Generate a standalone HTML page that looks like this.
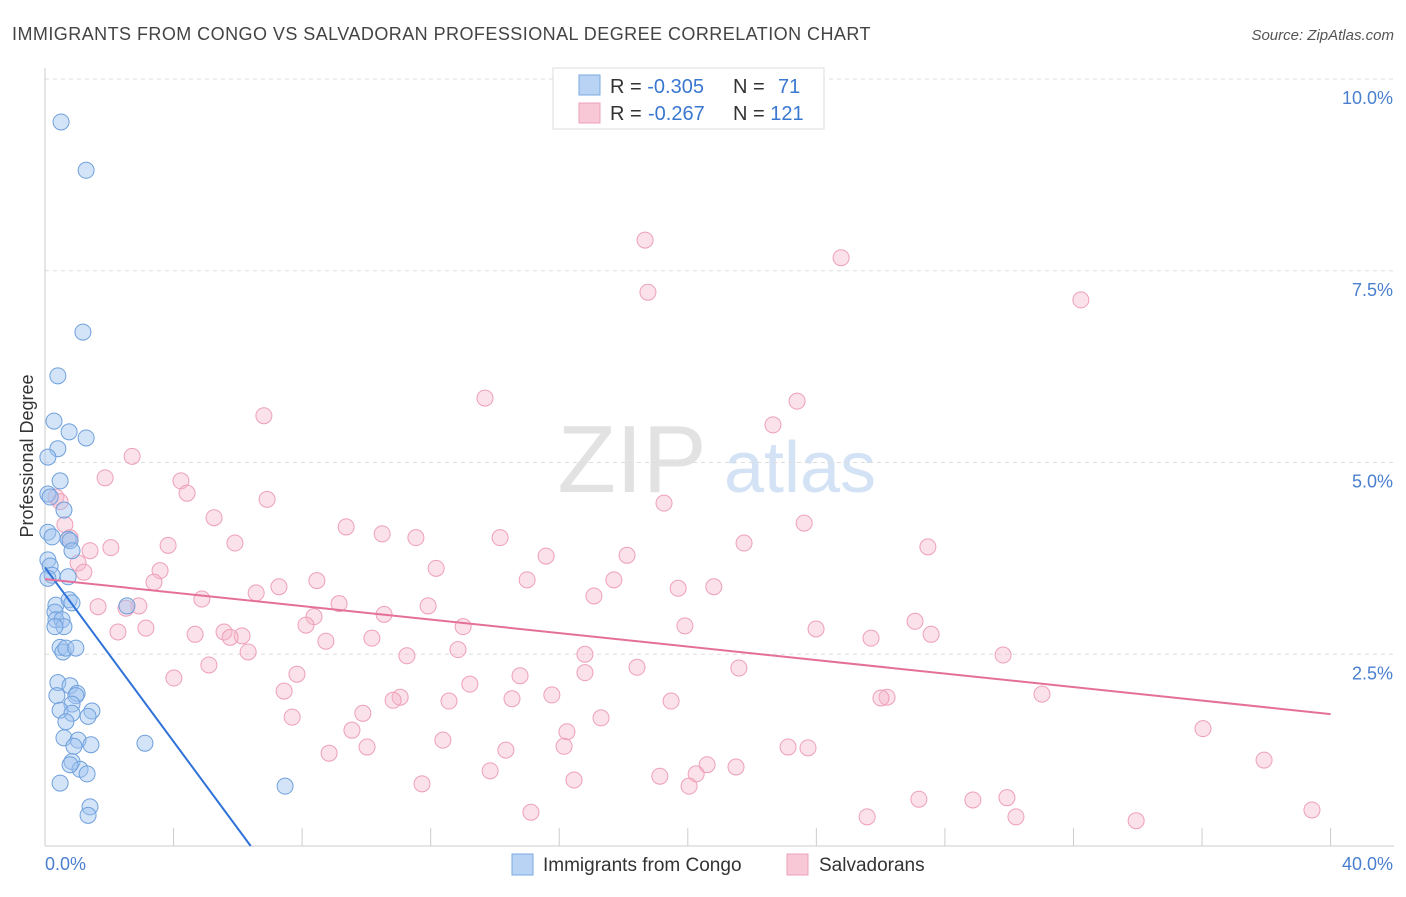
<!DOCTYPE html>
<html><head><meta charset="utf-8">
<style>
body{margin:0;background:#fff;font-family:"Liberation Sans",sans-serif;}
svg text{font-family:"Liberation Sans",sans-serif;}
</style></head>
<body>
<svg id="chart" width="1406" height="892" xmlns="http://www.w3.org/2000/svg">
<text x="12" y="40" font-size="18" fill="#444" letter-spacing="0.45">IMMIGRANTS FROM CONGO VS SALVADORAN PROFESSIONAL DEGREE CORRELATION CHART</text>
<text x="1394" y="40" font-size="15" fill="#555" text-anchor="end" font-style="italic">Source: ZipAtlas.com</text>
<text x="632" y="492" font-size="96" fill="#e2e2e2" font-family="Liberation Serif" text-anchor="middle">ZIP</text>
<text x="800" y="492" font-size="72" fill="#d3e2f4" text-anchor="middle">atlas</text>
<g id="grid"></g>
<g id="axes"></g>
<g id="points"></g>
<g id="lines"></g>
<text transform="translate(33,456) rotate(-90)" font-size="18" fill="#333" text-anchor="middle">Professional Degree</text>
<g>
<rect x="553" y="68" width="271" height="61" fill="#fff" stroke="#ddd"/>
<rect x="579" y="75" width="21" height="20" fill="#b9d3f5" stroke="#7aaae0"/>
<rect x="579" y="103" width="21" height="20" fill="#f8c8d6" stroke="#eea0b8"/>
<text x="610" y="93" font-size="20" fill="#333">R = <tspan fill="#3a78d0">-0.305</tspan></text>
<text x="733" y="93" font-size="20" fill="#333">N = <tspan x="778" fill="#3a78d0">71</tspan></text>
<text x="610" y="120" font-size="20" fill="#333">R = <tspan x="648" fill="#3a78d0">-0.267</tspan></text>
<text x="733" y="120" font-size="20" fill="#333">N = <tspan fill="#3a78d0">121</tspan></text>
</g>
<g>
<rect x="512" y="854" width="21" height="21" fill="#b9d3f5" stroke="#7aaae0"/>
<text x="543" y="871" font-size="19" fill="#333">Immigrants from Congo</text>
<rect x="787" y="854" width="21" height="21" fill="#f8c8d6" stroke="#eea0b8"/>
<text x="819" y="871" font-size="19" fill="#333">Salvadorans</text>
</g>
</svg>
<script>
const blueX=[0.50,1.28,1.18,0.40,0.28,0.75,1.28,0.40,0.09,0.47,0.09,0.16,0.59,0.09,0.22,0.72,0.78,0.84,0.09,0.16,0.22,0.72,0.09,0.34,0.75,0.84,2.55,0.31,0.34,0.53,0.59,0.31,0.47,0.56,0.65,0.96,0.40,0.78,1.00,0.96,0.37,0.84,0.47,1.46,0.84,1.34,0.65,0.59,1.03,0.90,1.43,3.11,0.84,1.09,1.31,0.78,0.47,1.40,1.34,7.47];
const blueY=[9.44,8.81,6.70,6.13,5.54,5.40,5.32,5.18,5.07,4.76,4.59,4.55,4.38,4.09,4.03,4.00,3.98,3.85,3.73,3.65,3.53,3.51,3.49,3.14,3.21,3.17,3.13,3.05,2.95,2.95,2.86,2.86,2.59,2.53,2.58,2.58,2.13,2.09,1.99,1.96,1.96,1.85,1.77,1.76,1.73,1.69,1.62,1.41,1.38,1.30,1.32,1.34,1.10,1.00,0.94,1.06,0.82,0.51,0.40,0.78];
const pinkX=[18.67,24.77,18.76,32.23,13.69,23.40,6.81,22.65,2.71,1.87,4.23,4.42,0.34,6.91,0.47,19.26,5.26,23.62,9.37,0.62,10.49,11.54,14.16,5.91,21.75,27.47,3.83,0.78,2.05,1.40,15.59,18.11,1.03,12.17,1.21,3.58,15.00,17.70,8.46,3.39,19.70,20.81,7.28,6.57,17.08,4.88,9.15,1.65,2.92,11.92,10.55,2.52,8.37,8.12,13.01,19.91,23.99,27.07,3.14,2.27,27.57,5.57,4.67,10.17,6.13,5.76,25.70,8.74,12.85,6.32,16.80,29.81,11.26,5.10,18.42,21.59,7.84,4.01,14.78,16.80,13.22,7.44,11.05,15.77,10.83,12.57,14.53,26.20,26.01,31.02,19.48,9.89,7.69,17.30,9.55,16.24,36.03,12.38,10.02,16.15,8.84,23.12,23.74,14.34,37.93,20.60,21.50,13.85,19.13,20.26,20.04,16.46,11.73,29.93,27.19,28.87,15.12,25.58,30.21,33.95,39.42];
const pinkY=[7.90,7.67,7.22,7.12,5.84,5.80,5.61,5.49,5.08,4.80,4.76,4.60,4.55,4.52,4.49,4.47,4.28,4.21,4.16,4.19,4.07,4.02,4.02,3.95,3.95,3.90,3.92,4.02,3.89,3.85,3.78,3.79,3.69,3.62,3.57,3.59,3.47,3.47,3.46,3.44,3.36,3.38,3.38,3.30,3.26,3.22,3.16,3.12,3.13,3.13,3.02,3.10,2.99,2.88,2.86,2.87,2.83,2.93,2.84,2.79,2.76,2.79,2.76,2.71,2.74,2.72,2.71,2.67,2.56,2.53,2.50,2.49,2.48,2.36,2.33,2.32,2.24,2.19,2.22,2.26,2.11,2.02,1.94,1.97,1.90,1.89,1.92,1.94,1.93,1.98,1.89,1.73,1.68,1.67,1.51,1.49,1.53,1.38,1.29,1.30,1.21,1.29,1.28,1.25,1.12,1.06,1.03,0.98,0.91,0.94,0.78,0.86,0.81,0.63,0.61,0.60,0.44,0.38,0.38,0.33,0.47];
const blueLine=[[0,3.63],[6.4,0]];
const pinkLine=[[0,3.48],[40,1.72]];
const yTicks=[2.5,5.0,7.5,10.0];
const yTickLabels=["2.5%","5.0%","7.5%","10.0%"];
const xTicks=[0,4,8,12,16,20,24,28,32,36,40];

const NS="http://www.w3.org/2000/svg";
const sx=v=>45+v*32.14, sy=v=>846-v*76.7;
function mk(tag,attrs,parent){const e=document.createElementNS(NS,tag);for(const k in attrs)e.setAttribute(k,attrs[k]);parent.appendChild(e);return e;}
const grid=document.getElementById('grid'),axes=document.getElementById('axes'),pts=document.getElementById('points'),lines=document.getElementById('lines');
yTicks.forEach((t,i)=>{
 const l=mk('line',{x1:45,x2:1394,y1:sy(t),y2:sy(t),stroke:'#ddd','stroke-dasharray':'4,4'},grid);
 
 
 const tx=mk('text',{x:1393,y:sy(t)+25,'font-size':18,fill:'#4a7fd0','text-anchor':'end'},axes);
 tx.textContent=yTickLabels[i];
 
 
});
const ax=mk('line',{x1:45,x2:45,y1:68,y2:846,stroke:'#ccc'},axes);


const bx=mk('line',{x1:45,x2:1394,y1:846,y2:846,stroke:'#ccc'},axes);


xTicks.forEach(t=>{
 const l=mk('line',{x1:sx(t),x2:sx(t),y1:828,y2:846,stroke:'#ccc'},axes);
 
 
});
const x0=mk('text',{x:45,y:870,'font-size':18,fill:'#4a7fd0'},axes);x0.textContent='0.0%';


const x1=mk('text',{x:1393,y:870,'font-size':18,fill:'#4a7fd0','text-anchor':'end'},axes);x1.textContent='40.0%';


function dots(X,Y,fill,stroke,name){X.forEach((v,i)=>{
 const c=mk('circle',{cx:sx(v),cy:sy(Y[i]),r:8,fill:fill,stroke:stroke,'stroke-width':1},pts);
 
 
});}
dots(pinkX,pinkY,'rgba(246,180,200,0.4)','#eea0b8','salvadoran-point');
dots(blueX,blueY,'rgba(160,196,240,0.45)','#6fa0dc','congo-point');
function ln(L,col,name){const e=mk('line',{x1:sx(L[0][0]),y1:sy(L[0][1]),x2:sx(L[1][0]),y2:sy(L[1][1]),stroke:col,'stroke-width':2},lines);
 
 }
ln(blueLine,'#2f72d8','congo-trend-line');
ln(pinkLine,'#e4709a','salvadoran-trend-line');
</script>
</body></html>
